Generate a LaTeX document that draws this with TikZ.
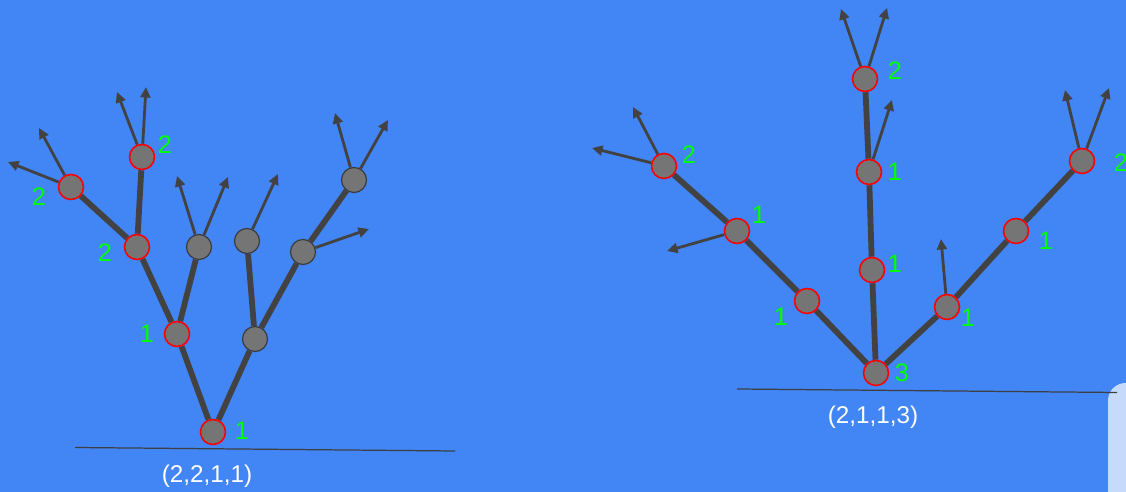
\documentclass[tikz,border=0pt]{standalone}
\usepackage{fontspec}
\setmainfont{Liberation Sans}
\usetikzlibrary{arrows.meta}
\definecolor{bg}{HTML}{4285F4}
\definecolor{stem}{HTML}{424242}
\definecolor{knotfill}{HTML}{757575}
\definecolor{rim}{HTML}{3C3C3C}
\definecolor{tallygreen}{HTML}{00FF00}
\definecolor{panel}{HTML}{C6DAFC}
\definecolor{groundline}{HTML}{3C4043}
\pgfdeclarelayer{background}
\pgfsetlayers{background,main}
\begin{document}
\begin{tikzpicture}[x=0.02cm,y=-0.02cm,
  knot/.style={circle,fill=knotfill,draw=rim,line width=0.7pt,minimum size=0.5cm,inner sep=0pt},
  marked/.style={knot,draw=red,line width=0.9pt},
  branch/.style={draw=stem,line width=3.3pt},
  shoot/.style={draw=stem,line width=1.6pt,-{Triangle[length=6pt,width=5.6pt]}},
  tally/.style={text=tallygreen,font=\fontsize{14.4}{17}\selectfont,inner sep=0pt},
  caption/.style={text=white,font=\fontsize{13.8}{16}\selectfont,inner sep=0pt},
  ground/.style={draw=groundline,line width=0.7pt}]

\clip (0,0) rectangle (1126,492);

% ---------- left tree (2,2,1,1) ----------
\node[marked] (l0) at (213,432) {};
\node[marked] (la) at (177,334) {};
\node[knot]   (lb) at (255,339) {};
\node[marked] (lc) at (137,247) {};
\node[knot]   (ld) at (199,247) {};
\node[knot]   (le) at (247,241) {};
\node[knot]   (lf) at (303,252) {};
\node[marked] (lg) at (71,187) {};
\node[marked] (lh) at (142,157) {};
\node[knot]   (li) at (354,180) {};

\node[tally] at (242,431) {1};
\node[tally] at (147,334) {1};
\node[tally] at (105,253) {2};
\node[tally] at (39,197) {2};
\node[tally] at (165,145) {2};

\coordinate (lg1) at (8,162);
\coordinate (lg2) at (39,128);
\coordinate (lh1) at (117,92);
\coordinate (lh2) at (146,87);
\coordinate (ld1) at (177,176);
\coordinate (ld2) at (228,177);
\coordinate (le1) at (278,174);
\coordinate (lf1) at (369,229);
\coordinate (li1) at (335,113);
\coordinate (li2) at (388,120);

\coordinate (lgs) at (75,447.5);
\coordinate (lge) at (455,451);
\node[caption] (lcap) at (207,476) {(2,2,1,1)};

% ---------- right tree (2,1,1,3) ----------
\node[marked] (r0) at (876,373) {};
\node[marked] (p1) at (807,301) {};
\node[marked] (p2) at (737,231) {};
\node[marked] (p3) at (664,166) {};
\node[marked] (m1) at (872,270) {};
\node[marked] (m2) at (869,172) {};
\node[marked] (m3) at (865,79) {};
\node[marked] (q1) at (947,307) {};
\node[marked] (q2) at (1016,231) {};
\node[marked] (q3) at (1082,161) {};

\node[tally] at (902,373) {3};
\node[tally] at (781,317) {1};
\node[tally] at (759,215) {1};
\node[tally] at (689,155) {2};
\node[tally] at (895,264) {1};
\node[tally] at (895,172) {1};
\node[tally] at (895,71) {2};
\node[tally] at (968,318) {1};
\node[tally] at (1046,241) {1};
\node[tally] at (1121,163) {2};

\coordinate (p3a) at (633,107);
\coordinate (p3b) at (592,148);
\coordinate (p2a) at (667,251);
\coordinate (m3a) at (841,9);
\coordinate (m3b) at (887,8);
\coordinate (m2a) at (892,100);
\coordinate (q1a) at (941,239);
\coordinate (q3a) at (1065,90);
\coordinate (q3b) at (1109,88);

\coordinate (rgs) at (737,389);
\coordinate (rge) at (1117,392.5);
\node[caption] (rcap) at (873,417) {(2,1,1,3)};

% ---------- backdrop, stems and shoots ----------
\begin{pgfonlayer}{background}
  \fill[bg] (0,0) rectangle (1126,492);
  \fill[panel, rounded corners=10] (1108,383) rectangle (1160,530);

  \draw[ground] (lgs) -- (lge);
  \draw[ground] (rgs) -- (rge);

  \draw[branch] (l0) -- (la);
  \draw[branch] (l0) -- (lb);
  \draw[branch] (la) -- (lc);
  \draw[branch] (la) -- (ld);
  \draw[branch] (lb) -- (le);
  \draw[branch] (lb) -- (lf);
  \draw[branch] (lc) -- (lg);
  \draw[branch] (lc) -- (lh);
  \draw[branch] (lf) -- (li);

  \draw[shoot] (lg) -- (lg1);
  \draw[shoot] (lg) -- (lg2);
  \draw[shoot] (lh) -- (lh1);
  \draw[shoot] (lh) -- (lh2);
  \draw[shoot] (ld) -- (ld1);
  \draw[shoot] (ld) -- (ld2);
  \draw[shoot] (le) -- (le1);
  \draw[shoot] (lf) -- (lf1);
  \draw[shoot] (li) -- (li1);
  \draw[shoot] (li) -- (li2);

  \draw[branch] (r0) -- (p1);
  \draw[branch] (p1) -- (p2);
  \draw[branch] (p2) -- (p3);
  \draw[branch] (r0) -- (m1);
  \draw[branch] (m1) -- (m2);
  \draw[branch] (m2) -- (m3);
  \draw[branch] (r0) -- (q1);
  \draw[branch] (q1) -- (q2);
  \draw[branch] (q2) -- (q3);

  \draw[shoot] (p3) -- (p3a);
  \draw[shoot] (p3) -- (p3b);
  \draw[shoot] (p2) -- (p2a);
  \draw[shoot] (m3) -- (m3a);
  \draw[shoot] (m3) -- (m3b);
  \draw[shoot] (m2) -- (m2a);
  \draw[shoot] (q1) -- (q1a);
  \draw[shoot] (q3) -- (q3a);
  \draw[shoot] (q3) -- (q3b);
\end{pgfonlayer}
\end{tikzpicture}
\end{document}
